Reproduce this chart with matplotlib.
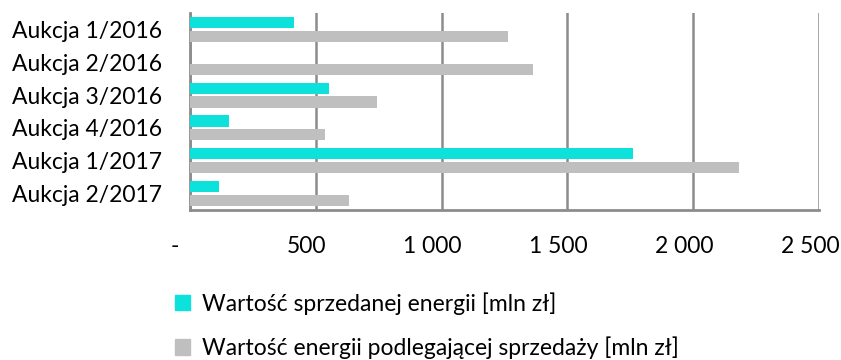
import matplotlib
matplotlib.use("Agg")
import matplotlib.pyplot as plt
import matplotlib.transforms as mtransforms
import numpy as np
from matplotlib.patches import Patch

categories = ["Aukcja 1/2016", "Aukcja 2/2016", "Aukcja 3/2016",
              "Aukcja 4/2016", "Aukcja 1/2017", "Aukcja 2/2017"]
sold = [415, 0, 554, 155, 1760, 115]
subject = [1263, 1365, 745, 538, 2182, 631]
series_names = ["Wartość sprzedanej energii [mln zł]",
                "Wartość energii podlegającej sprzedaży [mln zł]"]
xticks = [0, 500, 1000, 1500, 2000, 2500]
xticklabels = ["-", "500", "1 000", "1 500", "2 000", "2 500"]

c_sold = "#0DE1DC"
c_subj = "#BFBFBF"
gridc = "#8C8C8C"

plt.rcParams['font.family'] = ['Lato', 'DejaVu Sans']
FS = 16.5

fig = plt.figure(figsize=(8.41, 3.6), dpi=100)
ax = fig.add_axes([190/841, 1-210/360, (819-190)/841, (210-13)/360])

y = np.arange(len(categories))
h = 0.34
ax.barh(y - 0.21, sold, height=h, color=c_sold, zorder=3)
ax.barh(y + 0.21, subject, height=h, color=c_subj, zorder=3)

ax.set_ylim(len(categories) - 0.5, -0.5)
ax.set_xlim(0, 2500)
ax.set_yticks(y)
ax.set_yticklabels(categories, fontsize=FS)
ax.set_xticks(xticks)
ax.set_xticklabels(xticklabels, fontsize=FS)
ax.tick_params(axis='both', length=0)
ax.tick_params(axis='y', pad=20)
ax.tick_params(axis='x', pad=19)

for i, lab in enumerate(ax.get_xticklabels()):
    dx = -15 if i == 0 else -9
    lab.set_transform(lab.get_transform() +
                      mtransforms.ScaledTranslation(dx/100, 0, fig.dpi_scale_trans))

ax.grid(axis='x', color=gridc, linewidth=1.8, zorder=0)
for s in ['top', 'right']:
    ax.spines[s].set_visible(False)
for s in ['left', 'bottom']:
    ax.spines[s].set_color(gridc)
    ax.spines[s].set_linewidth(2)

handles = [Patch(color=c_sold), Patch(color=c_subj)]
fig.legend(handles, series_names, loc='upper left',
           bbox_to_anchor=(166/841, 1-283/360), frameon=False,
           fontsize=FS, handlelength=0.65, handleheight=0.65,
           handletextpad=0.5, labelspacing=0.95, borderaxespad=0)

fig.savefig("out.png", dpi=100)
